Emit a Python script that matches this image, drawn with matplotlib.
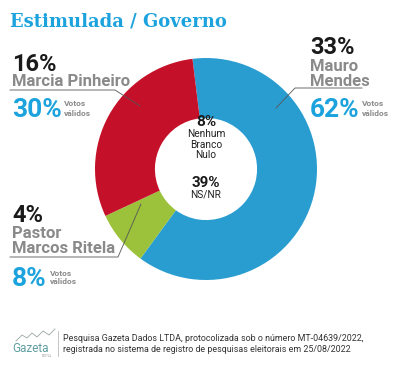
import matplotlib
matplotlib.use('Agg')
import matplotlib.pyplot as plt
from matplotlib.lines import Line2D

# Dados da pesquisa
candidatos = ['Mauro Mendes', 'Pastor Marcos Ritela', 'Marcia Pinheiro']
votos_validos = [62, 8, 30]
votos_totais = [33, 4, 16]
cores = ['#2a9dd0', '#9bc23a', '#c41129']
centro_rotulos = ['8%', 'Nenhum\nBranco\nNulo', '39%', 'NS/NR']

W, H = 400, 385
AZUL = '#1ca3dd'
CINZA = '#8a8a8a'
PRETO = '#1a1a1a'

fig = plt.figure(figsize=(W / 100, H / 100), dpi=100)
fig.patch.set_facecolor('white')


def px(x, y):
    # converte pixels (origem no topo) para coordenadas da figura
    return x / W, 1 - y / H


def texto(x, y, s, **kw):
    fx, fy = px(x, y)
    kw.setdefault('family', 'Roboto')
    return fig.text(fx, fy, s, **kw)


def linha(xs, ys, cor='#555555', lw=0.6):
    fxs = [x / W for x in xs]
    fys = [1 - y / H for y in ys]
    fig.add_artist(Line2D(fxs, fys, color=cor, lw=lw, transform=fig.transFigure))


# Titulo
texto(10, 26, 'Estimulada / Governo', family='DejaVu Serif', fontsize=13,
      fontweight='heavy', color=AZUL, va='baseline')

# Rosca
cx, cy, r = 206, 169, 111
ax = fig.add_axes([(cx - r) / W, 1 - (cy + r) / H, 2 * r / W, 2 * r / H])
ax.pie(votos_validos, colors=cores, startangle=97, counterclock=False,
       radius=1, wedgeprops=dict(width=0.54, edgecolor='none'))
ax.set_xlim(-1, 1)
ax.set_ylim(-1, 1)
ax.set_aspect('equal')
ax.axis('off')

# Centro
texto(cx, 126, centro_rotulos[0], fontsize=11, fontweight='bold', color=PRETO,
      ha='center', va='baseline')
for i, s in enumerate(centro_rotulos[1].split('\n')):
    texto(cx, 137 + i * 10.5, s, fontsize=7.3, color='#222222', ha='center',
          va='baseline')
texto(cx, 187, centro_rotulos[2], fontsize=11, fontweight='bold', color=PRETO,
      ha='center', va='baseline')
texto(cx, 198, centro_rotulos[3], fontsize=7.3, color='#222222', ha='center',
      va='baseline')


def bloco(x, y_total, nome_linhas, y_nome, y_valido, total, valido, x_votos):
    texto(x, y_total, f'{total}%', fontsize=17, fontweight='bold', color=PRETO,
          va='baseline')
    for i, n in enumerate(nome_linhas):
        texto(x, y_nome + i * 15, n, fontsize=12, fontweight='bold',
              color=CINZA, va='baseline')
    texto(x, y_valido, f'{valido}%', fontsize=19, fontweight='bold', color=AZUL,
          va='baseline')
    texto(x_votos, y_valido - 10.5, 'Votos', fontsize=6, fontweight='bold',
          color=CINZA, va='baseline')
    texto(x_votos, y_valido - 1.5, 'válidos', fontsize=6, fontweight='bold',
          color=CINZA, va='baseline')


# Marcia Pinheiro
bloco(12, 71, ['Marcia Pinheiro'], 86, 117, votos_totais[2], votos_validos[2], 64)
linha([10, 115, 140], [90, 90, 106])

# Mauro Mendes
bloco(310, 53.5, ['Mauro', 'Mendes'], 71, 117, votos_totais[0], votos_validos[0], 362)
linha([362, 295, 276], [88, 88, 108])

# Pastor Marcos Ritela
bloco(12, 222, ['Pastor', 'Marcos Ritela'], 238, 286, votos_totais[1], votos_validos[1], 50)
linha([10, 118, 141], [257, 257, 204])

# Rodape
linha([58, 58], [331, 356], cor='#bbbbbb', lw=0.6)
texto(63, 341, 'Pesquisa Gazeta Dados LTDA, protocolizada sob o número MT-04639/2022,',
      fontsize=6.4, color='#333333', va='baseline')
texto(63, 352.5, 'registrada no sistema de registro de pesquisas eleitorais em 25/08/2022',
      fontsize=6.4, color='#333333', va='baseline')
texto(12, 352, 'Gazeta', fontsize=8.5, color='#5f9ea0', va='baseline')
linha([16, 22, 27, 32, 37, 43, 49, 55], [341, 335, 338, 333, 337, 331, 335, 329],
      cor='#9aa5a5', lw=0.6)
texto(42, 357, 'DIGITAL', fontsize=2, color='#999999', va='baseline')

fig.savefig('out.png', dpi=100)
